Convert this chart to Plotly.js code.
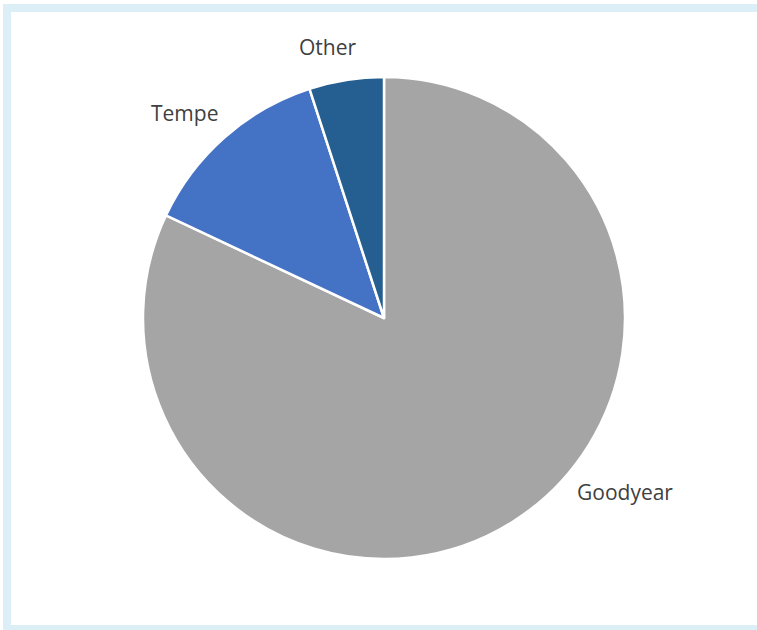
<!DOCTYPE html>
<html>
<head>
<meta charset="utf-8">
<script src="https://cdn.plot.ly/plotly-3.0.1.min.js"></script>
<style>
html,body{margin:0;padding:0;background:#fff;}
#chart{width:757px;height:630px;}
</style>
</head>
<body>
<div id="chart"></div>
<script>
const labels = ["Goodyear", "Tempe", "Other"];
const values = [82, 13, 5];
const colors = ["#A5A5A5", "#4472C4", "#255E91"];

const W = 757, H = 630;
const px = x => x / W;
const py = y => 1 - y / H;

const labelPos = [[625, 492], [184, 113], [327, 47]];

const trace = {
  type: "pie",
  labels: labels,
  values: values,
  sort: false,
  direction: "clockwise",
  rotation: 0,
  textinfo: "none",
  hoverinfo: "label+value",
  marker: {colors: colors, line: {color: "#FFFFFF", width: 2.5}},
  domain: {x: [px(143), px(625)], y: [py(559), py(77)]},
  showlegend: false
};

const frameColor = "#DDEFF6";
const shapes = [
  {type: "rect", xref: "paper", yref: "paper", x0: px(3), x1: px(11), y0: py(630), y1: py(4), fillcolor: frameColor, line: {width: 0}, layer: "below"},
  {type: "rect", xref: "paper", yref: "paper", x0: px(3), x1: 1, y0: py(12), y1: py(4), fillcolor: frameColor, line: {width: 0}, layer: "below"},
  {type: "rect", xref: "paper", yref: "paper", x0: px(3), x1: 1, y0: py(630), y1: py(625), fillcolor: frameColor, line: {width: 0}, layer: "below"}
];

const annotations = labels.map((t, i) => ({
  text: t, xref: "paper", yref: "paper",
  x: px(labelPos[i][0]), y: py(labelPos[i][1]),
  xanchor: "center", yanchor: "middle", showarrow: false,
  font: {family: "Open Sans, sans-serif", size: 21, color: "#404040"}
}));

Plotly.newPlot("chart", [trace], {
  width: W, height: H,
  margin: {l: 0, r: 0, t: 0, b: 0},
  paper_bgcolor: "#FFFFFF",
  shapes: shapes,
  annotations: annotations
}, {displayModeBar: false, staticPlot: true});
</script>
</body>
</html>
